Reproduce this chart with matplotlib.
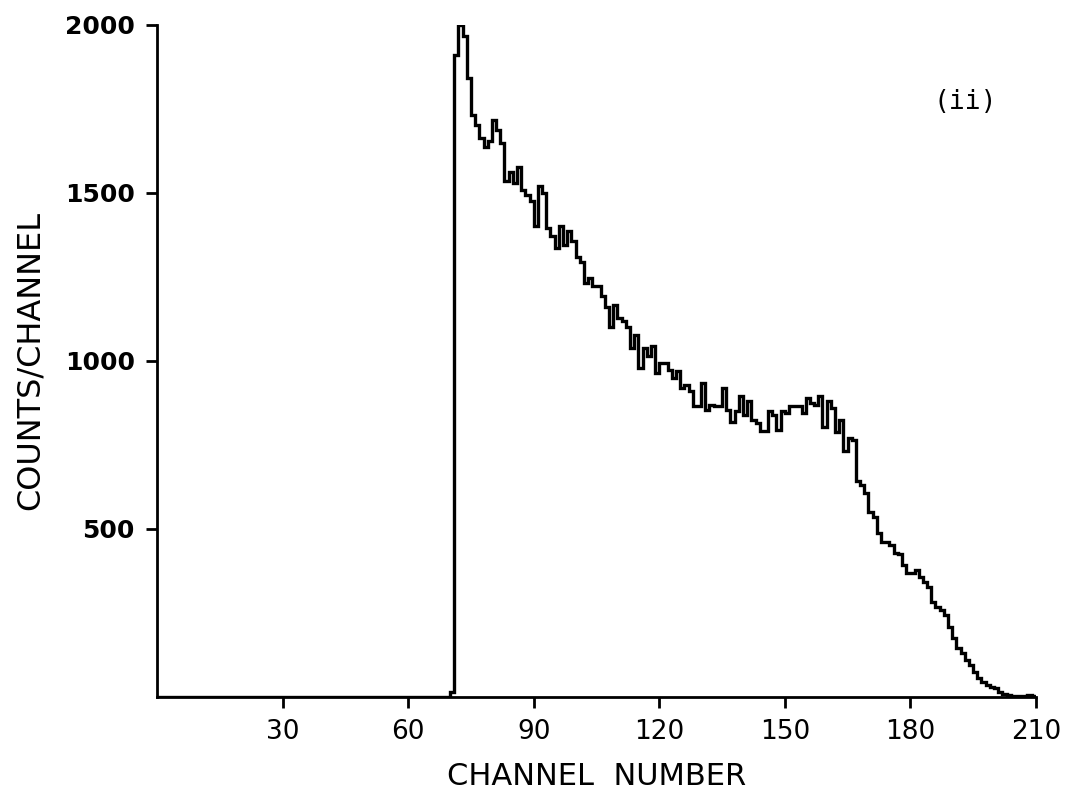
import numpy as np
import matplotlib.pyplot as plt

# counts per channel (channels 70..209, zero elsewhere)
first_channel = 70
counts = [15,
          1911, 1998, 1968, 1841, 1732, 1702, 1663, 1635, 1653, 1717,
          1687, 1648, 1534, 1563, 1529, 1578, 1509, 1494, 1474, 1400,
          1519, 1499, 1395, 1370, 1337, 1400, 1345, 1385, 1355, 1310,
          1295, 1231, 1246, 1221, 1223, 1192, 1161, 1101, 1166, 1127,
          1117, 1101, 1038, 1077, 978, 1038, 1013, 1043, 963, 993,
          993, 973, 950, 968, 919, 929, 909, 864, 864, 934,
          854, 869, 864, 864, 919, 854, 819, 849, 894, 839,
          879, 824, 814, 790, 790, 849, 839, 795, 849, 844,
          864, 864, 864, 844, 889, 874, 869, 896, 804, 879,
          859, 789, 824, 730, 770, 765, 641, 631, 606, 551,
          536, 487, 462, 462, 452, 427, 424, 392, 367, 367,
          377, 357, 342, 327, 283, 268, 258, 243, 208, 174,
          144, 129, 109, 94, 74, 55, 45, 35, 30, 25,
          15, 7, 5, 3, 2, 2, 3, 5, 2]

xticks = [30, 60, 90, 120, 150, 180, 210]
yticks = [500, 1000, 1500, 2000]

values = np.zeros(210)
values[first_channel:first_channel + len(counts)] = counts
edges = np.arange(211)

fig = plt.figure(figsize=(10.69, 7.99), dpi=100)
ax = fig.add_axes([0.147, 0.128, 0.822, 0.841])

ax.stairs(values, edges, color='black', linewidth=2.4, baseline=None)

ax.set_xlim(0, 210)
ax.set_ylim(0, 2000)
ax.spines['top'].set_visible(False)
ax.spines['right'].set_visible(False)
for s in ['left', 'bottom']:
    ax.spines[s].set_linewidth(2.0)

ax.set_xticks(xticks)
ax.set_xticklabels([str(t) for t in xticks], family='DejaVu Sans', fontsize=19)
ax.set_yticks(yticks)
ax.set_yticklabels([str(t) for t in yticks], family='DejaVu Sans',
                   fontsize=18, fontweight='bold')
ax.tick_params(axis='both', direction='out', length=8, width=2.0, pad=8)

ax.set_xlabel('CHANNEL  NUMBER', family='DejaVu Sans', fontsize=22, labelpad=12)
ax.set_ylabel('COUNTS/CHANNEL', family='DejaVu Sans', fontsize=23, labelpad=14)

ax.text(0.956, 0.885, '(ii)', transform=ax.transAxes, family='DejaVu Sans Mono',
        fontsize=19, ha='right', va='center')

fig.savefig('out.png', dpi=100)
